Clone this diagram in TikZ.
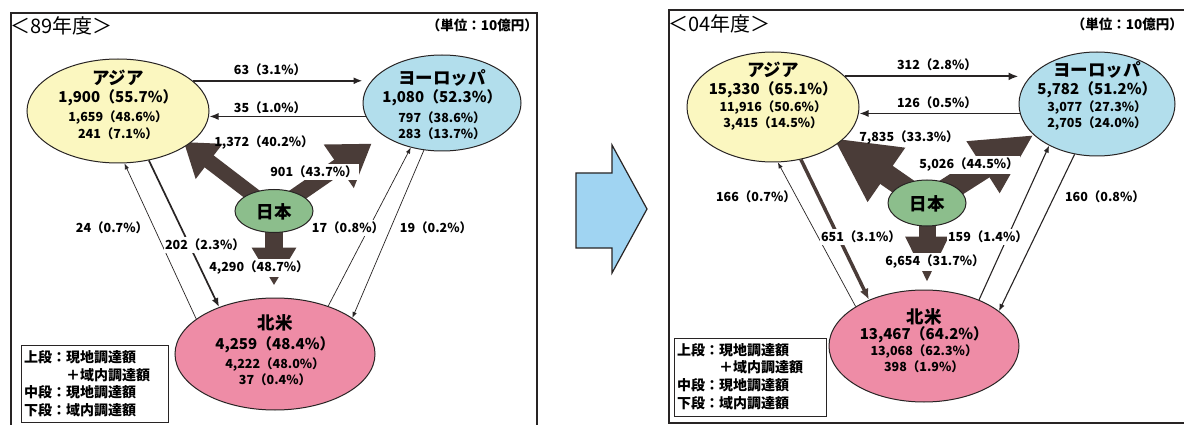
\documentclass[tikz,border=0pt]{standalone}
\usepackage{fontspec}
\setmainfont{Noto Sans CJK JP}
\usetikzlibrary{shapes.geometric,arrows.meta}
\pgfdeclarelayer{bg}
\pgfdeclarelayer{paper}
\pgfsetlayers{paper,bg,main}
\definecolor{asiaY}{RGB}{251,247,192}
\definecolor{euB}{RGB}{178,222,236}
\definecolor{jpG}{RGB}{140,190,140}
\definecolor{naP}{RGB}{238,140,166}
\definecolor{fatC}{RGB}{74,60,56}
\definecolor{lineC}{RGB}{40,36,36}
\definecolor{bigArr}{RGB}{160,212,242}
\tikzset{
  ell/.style={ellipse, draw=lineC, line width=1pt, inner sep=0pt},
  nm/.style={inner sep=0pt, font=\fontsize{17.5}{18}\selectfont\bfseries},
  mv/.style={inner sep=0pt, font=\fontsize{15}{16}\selectfont\bfseries},
  sv/.style={inner sep=0pt, font=\fontsize{12.5}{13}\selectfont\bfseries},
  lb/.style={inner sep=0pt, font=\fontsize{12.5}{13}\selectfont\bfseries},
  lbw/.style={lb, fill=white, inner xsep=1pt, inner ysep=2pt},
  lg/.style={inner sep=0pt, anchor=west, font=\fontsize{14}{14}\selectfont\bfseries},
  frame/.style={draw=lineC, line width=1.4pt},
  thin/.style={draw=lineC, line width=0.7pt, -{Latex[length=6pt,width=4.5pt]}},
  med/.style={draw=lineC, line width=1.7pt, -{Latex[length=9pt,width=7pt]}},
  fat/.style={draw=fatC, line cap=butt},
}
\begin{document}
\begin{tikzpicture}[x=1pt,y=-1pt]
\clip (0,0) rectangle (1184,425);
\begin{pgfonlayer}{paper}
\fill[white] (0,0) rectangle (1184,425);
\end{pgfonlayer}

% ---------- left panel: 89 ----------
\node[ell, fill=asiaY, minimum width=182pt, minimum height=104pt] (as1) at (118,111) {};
\node[ell, fill=euB, minimum width=158pt, minimum height=96pt] (eu1) at (442,103) {};
\node[ell, fill=jpG, minimum width=78pt, minimum height=43pt] (jp1) at (274,211) {};
\node[ell, fill=naP, minimum width=200pt, minimum height=112pt] (na1) at (275,354) {};

\node[nm] (as1n) at (118,78) {アジア};
\node[mv] (as1v) at (118,98) {1,900（55.7\%）};
\node[sv] (as1a) at (118,118) {1,659（48.6\%）};
\node[sv] (as1b) at (118,134) {241（7.1\%）};
\node[nm] (eu1n) at (442,78) {ヨーロッパ};
\node[mv] (eu1v) at (442,98) {1,080（52.3\%）};
\node[sv] (eu1a) at (442,118) {797（38.6\%）};
\node[sv] (eu1b) at (442,134) {283（13.7\%）};
\node[nm] (jp1n) at (274,212) {日本};
\node[nm] (na1n) at (275,323) {北米};
\node[mv] (na1v) at (275,345) {4,259（48.4\%）};
\node[sv] (na1a) at (275,365) {4,222（48.0\%）};
\node[sv] (na1b) at (275,380) {37（0.4\%）};

\node[anchor=west, inner sep=0pt, font=\fontsize{20}{20}\selectfont] (t1) at (10,26) {＜89年度＞};
\node[anchor=east, inner sep=0pt, font=\fontsize{13.5}{14}\selectfont\bfseries] (u1) at (538,25) {（単位：10億円）};

\node[draw=lineC, line width=1pt, anchor=north west, minimum width=147pt, minimum height=77pt, inner sep=0pt] (lg1) at (21,345) {};
\node[lg] (lg1a) at (24,357) {上段：現地調達額};
\node[lg] (lg1b) at (24,375) {　　　＋域内調達額};
\node[lg] (lg1c) at (24,392) {中段：現地調達額};
\node[lg] (lg1d) at (24,410) {下段：域内調達額};

\begin{pgfonlayer}{bg}
\draw[frame] (11,13) rectangle (537,440);
\draw[med] (as1.22) -- (as1.22 -| eu1.west);
\draw[draw=lineC, line width=1.4pt, -{Latex[length=9pt,width=7pt]}] (eu1.190) -- (eu1.190 -| as1.east);
\draw[fat, line width=15pt, -{Triangle[length=32pt,width=42pt]}, shorten >=-5pt] (jp1.center) -- (as1.-26);
\draw[fat, line width=16pt, -{Triangle[length=40pt,width=50pt]}, shorten >=14pt] (jp1.center) -- (eu1.209);
\draw[fat, line width=18pt, -{Triangle[length=38pt,width=42pt]}, shorten >=12pt] (jp1.center) -- (jp1.center |- na1.north);
\draw[thin] (na1.156) -- (as1.-83);
\draw[med] (as1.-58) -- (na1.140);
\draw[thin] (na1.42) -- (eu1.235);
\draw[thin] (eu1.249) -- (na1.25);
\end{pgfonlayer}

\node[lb] (l63) at (270,70) {63（3.1\%）};
\node[lb] (l35) at (270,108) {35（1.0\%）};
\node[lb] (l1372) at (264,143) {1,372（40.2\%）};
\node[lbw] (l901) at (314,172) {901（43.7\%）};
\node[lb] (l24) at (112,228) {24（0.7\%）};
\node[lbw] (l202) at (205,245) {202（2.3\%）};
\node[lbw] (l17) at (348,228) {17（0.8\%）};
\node[lb] (l19) at (436,228) {19（0.2\%）};
\node[lbw] (l4290) at (259,268) {4,290（48.7\%）};

% ---------- middle arrow ----------
\draw[draw=lineC, line width=1.2pt, fill=bigArr, line join=miter]
  (576,173) -- (612,173) -- (612,145) -- (647,209) -- (612,273) -- (612,248) -- (576,248) -- cycle;

% ---------- right panel: 04 ----------
\node[ell, fill=asiaY, minimum width=172pt, minimum height=110pt] (as2) at (773,107) {};
\node[ell, fill=euB, minimum width=156pt, minimum height=104pt] (eu2) at (1097,104) {};
\node[ell, fill=jpG, minimum width=78pt, minimum height=46pt] (jp2) at (927,203) {};
\node[ell, fill=naP, minimum width=190pt, minimum height=112pt] (na2) at (924,346) {};

\node[nm] (as2n) at (773,70) {アジア};
\node[mv] (as2v) at (773,90) {15,330（65.1\%）};
\node[sv] (as2a) at (773,108) {11,916（50.6\%）};
\node[sv] (as2b) at (773,124) {3,415（14.5\%）};
\node[nm] (eu2n) at (1097,70) {ヨーロッパ};
\node[mv] (eu2v) at (1097,90) {5,782（51.2\%）};
\node[sv] (eu2a) at (1097,108) {3,077（27.3\%）};
\node[sv] (eu2b) at (1097,124) {2,705（24.0\%）};
\node[nm] (jp2n) at (927,204) {日本};
\node[nm] (na2n) at (924,317) {北米};
\node[mv] (na2v) at (924,335) {13,467（64.2\%）};
\node[sv] (na2a) at (924,352) {13,068（62.3\%）};
\node[sv] (na2b) at (924,367) {398（1.9\%）};

\node[anchor=west, inner sep=0pt, font=\fontsize{20}{20}\selectfont] (t2) at (668,24) {＜04年度＞};
\node[anchor=east, inner sep=0pt, font=\fontsize{13.5}{14}\selectfont\bfseries] (u2) at (1183,24) {（単位：10億円）};

\node[draw=lineC, line width=1pt, anchor=north west, minimum width=152pt, minimum height=78pt, inner sep=0pt] (lg2) at (674,338) {};
\node[lg] (lg2a) at (677,350) {上段：現地調達額};
\node[lg] (lg2b) at (677,367) {　　　＋域内調達額};
\node[lg] (lg2c) at (677,385) {中段：現地調達額};
\node[lg] (lg2d) at (677,403) {下段：域内調達額};

\begin{pgfonlayer}{bg}
\draw[frame] (669,10) rectangle (1200,423);
\draw[draw=lineC, line width=2.2pt, -{Latex[length=10pt,width=8pt]}] (as2.23) -- (as2.23 -| eu2.west);
\draw[draw=lineC, line width=1.4pt, -{Latex[length=9pt,width=7pt]}] (eu2.187) -- (eu2.187 -| as2.east);
\draw[fat, line width=22pt, -{Triangle[length=65pt,width=61pt]}, shorten >=-8pt] (jp2.center) -- (as2.-28);
\draw[fat, line width=24pt, -{Triangle[length=60pt,width=57pt]}] (jp2.center) -- (eu2.206);
\draw[fat, line width=17pt, -{Triangle[length=46pt,width=40pt]}, shorten >=7pt] (jp2.center) -- (jp2.center |- na2.north);
\draw[thin] (na2.150) -- (as2.-85);
\draw[draw=fatC, line width=3.5pt, -{Latex[length=11pt,width=9pt]}] (as2.-62) -- (na2.140);
\draw[draw=lineC, line width=1.1pt, -{Latex[length=7pt,width=5.5pt]}] (na2.40) -- (eu2.221);
\draw[draw=lineC, line width=1.1pt, -{Latex[length=7pt,width=5.5pt]}] (eu2.246) -- (na2.25);
\end{pgfonlayer}

\node[lb] (l312) at (937,65) {312（2.8\%）};
\node[lb] (l126) at (937,103) {126（0.5\%）};
\node[lb] (l7835) at (909,138) {7,835（33.3\%）};
\node[lbw] (l5026) at (969,165) {5,026（44.5\%）};
\node[lb] (l166) at (756,197) {166（0.7\%）};
\node[lbw] (l651) at (861,237) {651（3.1\%）};
\node[lbw] (l159) at (988,237) {159（1.4\%）};
\node[lbw] (l6654) at (935,262) {6,654（31.7\%）};
\node[lb] (l160) at (1105,197) {160（0.8\%）};
\end{tikzpicture}
\end{document}
